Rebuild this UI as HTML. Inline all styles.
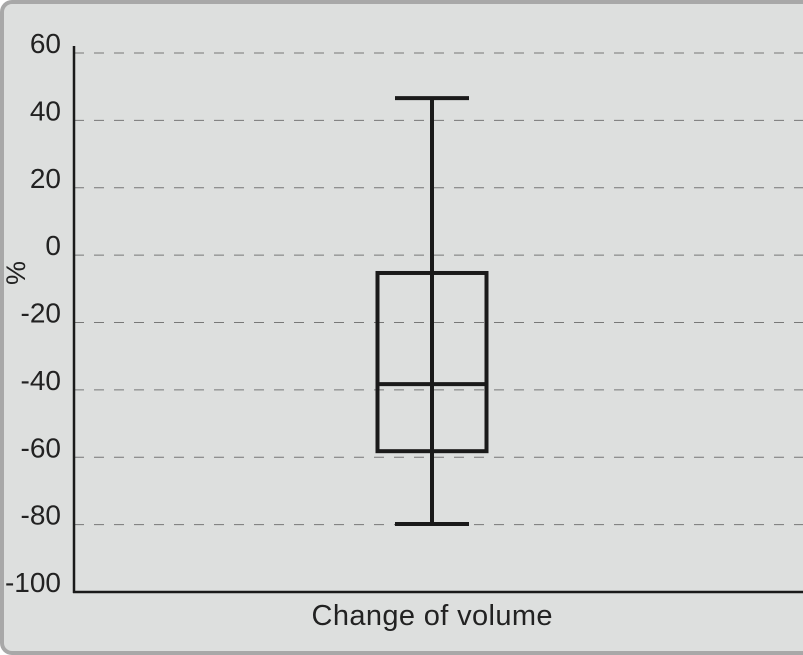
<!DOCTYPE html>
<html><head><meta charset="utf-8"><style>
html,body{margin:0;padding:0;background:#fff}
#frame{position:absolute;left:0;top:0;width:803px;height:655px;box-sizing:border-box;border:4px solid #a8a8a8;border-right:none;border-radius:12px 0 0 12px;background:#dddfde;overflow:hidden}
svg{position:absolute;left:0;top:0}
text{font-family:"Liberation Sans",sans-serif;fill:#222}
</style></head><body>
<div id="frame"></div>
<svg id="chart" width="803" height="655"></svg>
<script>
const categories = ["Change of volume"];
const whiskerLow = [-79.8];
const q1 = [-58.2];
const median = [-38.3];
const q3 = [-5.3];
const whiskerHigh = [46.6];
const yTicks = [60, 40, 20, 0, -20, -40, -60, -80, -100];

const NS = "http://www.w3.org/2000/svg";
const svg = document.getElementById('chart');
const y0 = 53, y1 = 592, vMax = 60, vMin = -100;
const xL = 74, xR = 803;
function yS(v){ return y0 + (vMax - v) / (vMax - vMin) * (y1 - y0); }
function xS(i){ return 432 + i * 200; }
function mk(tag, attrs){ const e = document.createElementNS(NS, tag); for (const k in attrs) e.setAttribute(k, attrs[k]); svg.appendChild(e); return e; }

yTicks.forEach(t => {
  if (t !== vMin) {
    const g = mk('line', {x1: xL, x2: xR, y1: yS(t), y2: yS(t), stroke: '#777', 'stroke-width': 1, 'stroke-dasharray': '10,10'});
    
    
  }
  const l = mk('text', {x: 61, y: yS(t), 'text-anchor': 'end', 'font-size': 28});
  l.textContent = t;
  
  
});
const ya = mk('line', {x1: xL, x2: xL, y1: 46, y2: y1 + 1, stroke: '#1a1a1a', 'stroke-width': 2.5});


const xa = mk('line', {x1: xL - 1, x2: xR, y1: y1, y2: y1, stroke: '#1a1a1a', 'stroke-width': 2.5});



const yt = mk('text', {x: 0, y: 0, 'font-size': 27, transform: 'translate(25,273) rotate(-90)', 'text-anchor': 'middle'});
yt.textContent = '%';



categories.forEach((c, i) => {
  const cx = xS(i), bw = 109, cw = 74;
  const sw = {stroke: '#1a1a1a', 'stroke-width': 4, fill: 'none'};
  const w = mk('line', Object.assign({x1: cx, x2: cx, y1: yS(whiskerHigh[i]), y2: yS(whiskerLow[i])}, sw));
  
  
  const ct = mk('line', Object.assign({x1: cx - cw/2, x2: cx + cw/2, y1: yS(whiskerHigh[i]), y2: yS(whiskerHigh[i])}, sw));
  
  
  const cb = mk('line', Object.assign({x1: cx - cw/2, x2: cx + cw/2, y1: yS(whiskerLow[i]), y2: yS(whiskerLow[i])}, sw));
  
  
  const b = mk('rect', Object.assign({x: cx - bw/2, y: yS(q3[i]), width: bw, height: yS(q1[i]) - yS(q3[i])}, sw));
  
  
  const m = mk('line', Object.assign({x1: cx - bw/2, x2: cx + bw/2, y1: yS(median[i]), y2: yS(median[i])}, sw));
  
  
  const lbl = mk('text', {x: cx, y: 625, 'text-anchor': 'middle', 'font-size': 29, textLength: 241});
  lbl.textContent = c;
  
  
});
</script>
</body></html>
